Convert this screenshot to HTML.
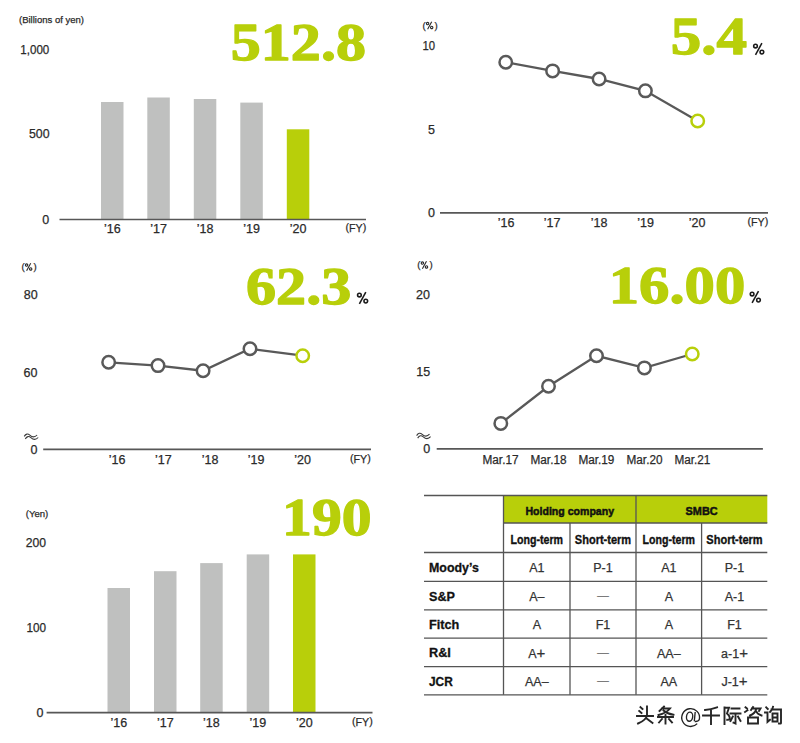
<!DOCTYPE html>
<html><head><meta charset="utf-8"><style>
html,body{margin:0;padding:0;background:#fff;}
body{width:800px;height:743px;overflow:hidden;position:relative;}
svg{position:absolute;left:0;top:0;font-family:"Liberation Sans",sans-serif;}
</style></head><body>
<svg width="800" height="743" viewBox="0 0 800 743">
<text x="19" y="23" font-size="9.6" textLength="65" lengthAdjust="spacingAndGlyphs" fill="#2a2a2a" stroke="#2a2a2a" stroke-width="0.25">(Billions of yen)</text>
<text x="49.3" y="54" font-size="12.5" text-anchor="end" textLength="29" lengthAdjust="spacingAndGlyphs" fill="#2a2a2a" stroke="#2a2a2a" stroke-width="0.25">1,000</text>
<text x="49.6" y="138" font-size="12.5" text-anchor="end" textLength="20.6" lengthAdjust="spacingAndGlyphs" fill="#2a2a2a" stroke="#2a2a2a" stroke-width="0.25">500</text>
<text x="49.3" y="223.5" font-size="12.5" text-anchor="end" fill="#2a2a2a" stroke="#2a2a2a" stroke-width="0.25">0</text>
<rect x="101" y="102" width="22.5" height="117.5" fill="#bfc0bf"/>
<rect x="147.3" y="97.5" width="22.5" height="122.0" fill="#bfc0bf"/>
<rect x="193.8" y="99" width="22.5" height="120.5" fill="#bfc0bf"/>
<rect x="240.3" y="102.6" width="22.5" height="116.9" fill="#bfc0bf"/>
<rect x="286.8" y="129.3" width="22.5" height="90.19999999999999" fill="#b8cf0a"/>
<line x1="59.5" y1="219.5" x2="366" y2="219.5" stroke="#575757" stroke-width="1.7"/>
<text x="112.25" y="233" font-size="12.5" text-anchor="middle" fill="#2a2a2a" stroke="#2a2a2a" stroke-width="0.25">’16</text>
<text x="158.55" y="233" font-size="12.5" text-anchor="middle" fill="#2a2a2a" stroke="#2a2a2a" stroke-width="0.25">’17</text>
<text x="205.05" y="233" font-size="12.5" text-anchor="middle" fill="#2a2a2a" stroke="#2a2a2a" stroke-width="0.25">’18</text>
<text x="251.55" y="233" font-size="12.5" text-anchor="middle" fill="#2a2a2a" stroke="#2a2a2a" stroke-width="0.25">’19</text>
<text x="298.05" y="233" font-size="12.5" text-anchor="middle" fill="#2a2a2a" stroke="#2a2a2a" stroke-width="0.25">’20</text>
<text x="366.3" y="231.9" font-size="11.8" text-anchor="end" fill="#2a2a2a" stroke="#2a2a2a" stroke-width="0.25" textLength="20.8" lengthAdjust="spacingAndGlyphs"><tspan dy="-0.9">(</tspan><tspan dy="0.9">FY</tspan><tspan dy="-0.9">)</tspan></text>
<text x="298.35" y="59.75" font-size="53.7" text-anchor="middle" font-weight="bold" font-family="Liberation Serif" textLength="135.2" lengthAdjust="spacingAndGlyphs" fill="#b8cf0a" stroke="#b8cf0a" stroke-width="1.3" stroke-linejoin="round">512.8</text>
<text x="422.4" y="28.5" font-size="9.6" fill="#2a2a2a" stroke="#2a2a2a" stroke-width="0.25">(</text>
<g transform="translate(426.0,29.1) scale(0.64)" fill="none" stroke="#2a2a2a" stroke-width="1.71875"><circle cx="2.5" cy="-8.7" r="1.85"/><circle cx="8.9" cy="-2.6" r="1.85"/><line x1="8.9" y1="-11.6" x2="2.5" y2="0.1"/></g>
<text x="434.6" y="28.5" font-size="9.6" fill="#2a2a2a" stroke="#2a2a2a" stroke-width="0.25">)</text>
<text x="435" y="49.5" font-size="12.5" text-anchor="end" textLength="12.6" lengthAdjust="spacingAndGlyphs" fill="#2a2a2a" stroke="#2a2a2a" stroke-width="0.25">10</text>
<text x="435" y="133.9" font-size="12.5" text-anchor="end" fill="#2a2a2a" stroke="#2a2a2a" stroke-width="0.25">5</text>
<text x="435" y="217.3" font-size="12.5" text-anchor="end" fill="#2a2a2a" stroke="#2a2a2a" stroke-width="0.25">0</text>
<line x1="440" y1="212.9" x2="768" y2="212.9" stroke="#575757" stroke-width="1.7"/>
<polyline points="505.75,62.25 552.6,70.9 599.1,79 645.4,90.85 697.7,121" fill="none" stroke="#595959" stroke-width="2.3"/>
<circle cx="505.75" cy="62.25" r="6.25" fill="#fff" stroke="#595959" stroke-width="2.5"/>
<circle cx="552.6" cy="70.9" r="6.25" fill="#fff" stroke="#595959" stroke-width="2.5"/>
<circle cx="599.1" cy="79" r="6.25" fill="#fff" stroke="#595959" stroke-width="2.5"/>
<circle cx="645.4" cy="90.85" r="6.25" fill="#fff" stroke="#595959" stroke-width="2.5"/>
<circle cx="697.7" cy="121" r="6.25" fill="#fff" stroke="#b8cf0a" stroke-width="2.5"/>
<text x="506.2" y="226.6" font-size="12.5" text-anchor="middle" fill="#2a2a2a" stroke="#2a2a2a" stroke-width="0.25">’16</text>
<text x="552.1" y="226.6" font-size="12.5" text-anchor="middle" fill="#2a2a2a" stroke="#2a2a2a" stroke-width="0.25">’17</text>
<text x="599" y="226.6" font-size="12.5" text-anchor="middle" fill="#2a2a2a" stroke="#2a2a2a" stroke-width="0.25">’18</text>
<text x="645.7" y="226.6" font-size="12.5" text-anchor="middle" fill="#2a2a2a" stroke="#2a2a2a" stroke-width="0.25">’19</text>
<text x="697" y="226.6" font-size="12.5" text-anchor="middle" fill="#2a2a2a" stroke="#2a2a2a" stroke-width="0.25">’20</text>
<text x="768.3" y="226.3" font-size="11.8" text-anchor="end" fill="#2a2a2a" stroke="#2a2a2a" stroke-width="0.25" textLength="20.8" lengthAdjust="spacingAndGlyphs"><tspan dy="-0.9">(</tspan><tspan dy="0.9">FY</tspan><tspan dy="-0.9">)</tspan></text>
<text x="708.9" y="54.35" font-size="53.7" text-anchor="middle" font-weight="bold" font-family="Liberation Serif" textLength="76.3" lengthAdjust="spacingAndGlyphs" fill="#b8cf0a" stroke="#b8cf0a" stroke-width="1.3" stroke-linejoin="round">5.4</text>
<g transform="translate(753,54.7) scale(1.0)" fill="none" stroke="#1a1a1a" stroke-width="1.55"><circle cx="2.5" cy="-8.7" r="1.85"/><circle cx="8.9" cy="-2.6" r="1.85"/><line x1="8.9" y1="-11.6" x2="2.5" y2="0.1"/></g>
<text x="21.4" y="270" font-size="9.6" fill="#2a2a2a" stroke="#2a2a2a" stroke-width="0.25">(</text>
<g transform="translate(25.0,270.6) scale(0.64)" fill="none" stroke="#2a2a2a" stroke-width="1.71875"><circle cx="2.5" cy="-8.7" r="1.85"/><circle cx="8.9" cy="-2.6" r="1.85"/><line x1="8.9" y1="-11.6" x2="2.5" y2="0.1"/></g>
<text x="33.6" y="270" font-size="9.6" fill="#2a2a2a" stroke="#2a2a2a" stroke-width="0.25">)</text>
<text x="37.7" y="298.8" font-size="12.5" text-anchor="end" fill="#2a2a2a" stroke="#2a2a2a" stroke-width="0.25">80</text>
<text x="37.5" y="376.7" font-size="12.5" text-anchor="end" fill="#2a2a2a" stroke="#2a2a2a" stroke-width="0.25">60</text>
<g transform="translate(24.2,433.3)" fill="none" stroke="#3a3a3a" stroke-width="1.1"><path d="M0,3.1 C1.6,0.4 3.6,0.1 5.6,1.9 S10,4.9 12.9,1.7"/><path transform="translate(1.1,2.5)" d="M0,3.1 C1.6,0.4 3.6,0.1 5.6,1.9 S10,4.9 12.9,1.7"/></g>
<text x="37.5" y="453.7" font-size="12.5" text-anchor="end" fill="#2a2a2a" stroke="#2a2a2a" stroke-width="0.25">0</text>
<line x1="43.2" y1="449.4" x2="371" y2="449.4" stroke="#575757" stroke-width="1.7"/>
<polyline points="108.65,362.3 158,365.6 203.1,370.75 250,348.8 302.7,355.7" fill="none" stroke="#595959" stroke-width="2.3"/>
<circle cx="108.65" cy="362.3" r="6.25" fill="#fff" stroke="#595959" stroke-width="2.5"/>
<circle cx="158" cy="365.6" r="6.25" fill="#fff" stroke="#595959" stroke-width="2.5"/>
<circle cx="203.1" cy="370.75" r="6.25" fill="#fff" stroke="#595959" stroke-width="2.5"/>
<circle cx="250" cy="348.8" r="6.25" fill="#fff" stroke="#595959" stroke-width="2.5"/>
<circle cx="302.7" cy="355.7" r="6.25" fill="#fff" stroke="#b8cf0a" stroke-width="2.5"/>
<text x="117" y="463.5" font-size="12.5" text-anchor="middle" fill="#2a2a2a" stroke="#2a2a2a" stroke-width="0.25">’16</text>
<text x="163.3" y="463.5" font-size="12.5" text-anchor="middle" fill="#2a2a2a" stroke="#2a2a2a" stroke-width="0.25">’17</text>
<text x="210" y="463.5" font-size="12.5" text-anchor="middle" fill="#2a2a2a" stroke="#2a2a2a" stroke-width="0.25">’18</text>
<text x="256" y="463.5" font-size="12.5" text-anchor="middle" fill="#2a2a2a" stroke="#2a2a2a" stroke-width="0.25">’19</text>
<text x="302.7" y="463.5" font-size="12.5" text-anchor="middle" fill="#2a2a2a" stroke="#2a2a2a" stroke-width="0.25">’20</text>
<text x="370.7" y="463.2" font-size="11.8" text-anchor="end" fill="#2a2a2a" stroke="#2a2a2a" stroke-width="0.25" textLength="20.8" lengthAdjust="spacingAndGlyphs"><tspan dy="-0.9">(</tspan><tspan dy="0.9">FY</tspan><tspan dy="-0.9">)</tspan></text>
<text x="298.65" y="304.35" font-size="53.7" text-anchor="middle" font-weight="bold" font-family="Liberation Serif" textLength="105.2" lengthAdjust="spacingAndGlyphs" fill="#b8cf0a" stroke="#b8cf0a" stroke-width="1.3" stroke-linejoin="round">62.3</text>
<g transform="translate(356.9,303.7) scale(1.0)" fill="none" stroke="#1a1a1a" stroke-width="1.55"><circle cx="2.5" cy="-8.7" r="1.85"/><circle cx="8.9" cy="-2.6" r="1.85"/><line x1="8.9" y1="-11.6" x2="2.5" y2="0.1"/></g>
<text x="417.2" y="268" font-size="9.6" fill="#2a2a2a" stroke="#2a2a2a" stroke-width="0.25">(</text>
<g transform="translate(420.8,268.6) scale(0.64)" fill="none" stroke="#2a2a2a" stroke-width="1.71875"><circle cx="2.5" cy="-8.7" r="1.85"/><circle cx="8.9" cy="-2.6" r="1.85"/><line x1="8.9" y1="-11.6" x2="2.5" y2="0.1"/></g>
<text x="429.40000000000003" y="268" font-size="9.6" fill="#2a2a2a" stroke="#2a2a2a" stroke-width="0.25">)</text>
<text x="430" y="298.8" font-size="12.5" text-anchor="end" fill="#2a2a2a" stroke="#2a2a2a" stroke-width="0.25">20</text>
<text x="430.2" y="375.5" font-size="12.5" text-anchor="end" fill="#2a2a2a" stroke="#2a2a2a" stroke-width="0.25">15</text>
<g transform="translate(416.6,432.5)" fill="none" stroke="#3a3a3a" stroke-width="1.1"><path d="M0,3.1 C1.6,0.4 3.6,0.1 5.6,1.9 S10,4.9 12.9,1.7"/><path transform="translate(1.1,2.5)" d="M0,3.1 C1.6,0.4 3.6,0.1 5.6,1.9 S10,4.9 12.9,1.7"/></g>
<text x="430.2" y="452.6" font-size="12.5" text-anchor="end" fill="#2a2a2a" stroke="#2a2a2a" stroke-width="0.25">0</text>
<line x1="436.7" y1="448.9" x2="762.9" y2="448.9" stroke="#575757" stroke-width="1.7"/>
<polyline points="500.8,423.4 548.5,386.3 596.5,355.8 644.4,367.9 692.25,354" fill="none" stroke="#595959" stroke-width="2.3"/>
<circle cx="500.8" cy="423.4" r="6.25" fill="#fff" stroke="#595959" stroke-width="2.5"/>
<circle cx="548.5" cy="386.3" r="6.25" fill="#fff" stroke="#595959" stroke-width="2.5"/>
<circle cx="596.5" cy="355.8" r="6.25" fill="#fff" stroke="#595959" stroke-width="2.5"/>
<circle cx="644.4" cy="367.9" r="6.25" fill="#fff" stroke="#595959" stroke-width="2.5"/>
<circle cx="692.25" cy="354" r="6.25" fill="#fff" stroke="#b8cf0a" stroke-width="2.5"/>
<text x="500.5" y="463.6" font-size="12.5" text-anchor="middle" textLength="36" lengthAdjust="spacingAndGlyphs" fill="#2a2a2a" stroke="#2a2a2a" stroke-width="0.25">Mar.17</text>
<text x="548.5" y="463.6" font-size="12.5" text-anchor="middle" textLength="36" lengthAdjust="spacingAndGlyphs" fill="#2a2a2a" stroke="#2a2a2a" stroke-width="0.25">Mar.18</text>
<text x="596.4" y="463.6" font-size="12.5" text-anchor="middle" textLength="36" lengthAdjust="spacingAndGlyphs" fill="#2a2a2a" stroke="#2a2a2a" stroke-width="0.25">Mar.19</text>
<text x="644.5" y="463.6" font-size="12.5" text-anchor="middle" textLength="36" lengthAdjust="spacingAndGlyphs" fill="#2a2a2a" stroke="#2a2a2a" stroke-width="0.25">Mar.20</text>
<text x="692.4" y="463.6" font-size="12.5" text-anchor="middle" textLength="36" lengthAdjust="spacingAndGlyphs" fill="#2a2a2a" stroke="#2a2a2a" stroke-width="0.25">Mar.21</text>
<text x="677.0" y="302.95000000000005" font-size="53.7" text-anchor="middle" font-weight="bold" font-family="Liberation Serif" textLength="136.5" lengthAdjust="spacingAndGlyphs" fill="#b8cf0a" stroke="#b8cf0a" stroke-width="1.3" stroke-linejoin="round">16.00</text>
<g transform="translate(749.6,302.7) scale(1.0)" fill="none" stroke="#1a1a1a" stroke-width="1.55"><circle cx="2.5" cy="-8.7" r="1.85"/><circle cx="8.9" cy="-2.6" r="1.85"/><line x1="8.9" y1="-11.6" x2="2.5" y2="0.1"/></g>
<text x="25.7" y="517" font-size="9.6" fill="#2a2a2a" stroke="#2a2a2a" stroke-width="0.25">(Yen)</text>
<text x="46" y="547.2" font-size="12.5" text-anchor="end" textLength="20.3" lengthAdjust="spacingAndGlyphs" fill="#2a2a2a" stroke="#2a2a2a" stroke-width="0.25">200</text>
<text x="46" y="632.2" font-size="12.5" text-anchor="end" textLength="19.6" lengthAdjust="spacingAndGlyphs" fill="#2a2a2a" stroke="#2a2a2a" stroke-width="0.25">100</text>
<text x="43.5" y="716.6" font-size="12.5" text-anchor="end" fill="#2a2a2a" stroke="#2a2a2a" stroke-width="0.25">0</text>
<rect x="107.5" y="588" width="22.5" height="124.70000000000005" fill="#bfc0bf"/>
<rect x="154" y="571.2" width="22.5" height="141.5" fill="#bfc0bf"/>
<rect x="200.2" y="563.1" width="22.5" height="149.60000000000002" fill="#bfc0bf"/>
<rect x="246.7" y="554.4" width="22.5" height="158.30000000000007" fill="#bfc0bf"/>
<rect x="293" y="554.4" width="22.5" height="158.30000000000007" fill="#b8cf0a"/>
<line x1="46.6" y1="712.7" x2="372.5" y2="712.7" stroke="#575757" stroke-width="1.7"/>
<text x="118.75" y="727" font-size="12.5" text-anchor="middle" fill="#2a2a2a" stroke="#2a2a2a" stroke-width="0.25">’16</text>
<text x="165.25" y="727" font-size="12.5" text-anchor="middle" fill="#2a2a2a" stroke="#2a2a2a" stroke-width="0.25">’17</text>
<text x="211.45" y="727" font-size="12.5" text-anchor="middle" fill="#2a2a2a" stroke="#2a2a2a" stroke-width="0.25">’18</text>
<text x="257.95" y="727" font-size="12.5" text-anchor="middle" fill="#2a2a2a" stroke="#2a2a2a" stroke-width="0.25">’19</text>
<text x="304.25" y="727" font-size="12.5" text-anchor="middle" fill="#2a2a2a" stroke="#2a2a2a" stroke-width="0.25">’20</text>
<text x="372.8" y="726.0" font-size="11.8" text-anchor="end" fill="#2a2a2a" stroke="#2a2a2a" stroke-width="0.25" textLength="20.8" lengthAdjust="spacingAndGlyphs"><tspan dy="-0.9">(</tspan><tspan dy="0.9">FY</tspan><tspan dy="-0.9">)</tspan></text>
<text x="326.79999999999995" y="534.5500000000001" font-size="53.7" text-anchor="middle" font-weight="bold" font-family="Liberation Serif" textLength="89.4" lengthAdjust="spacingAndGlyphs" fill="#b8cf0a" stroke="#b8cf0a" stroke-width="1.3" stroke-linejoin="round">190</text>
<rect x="503.5" y="495.5" width="263.79999999999995" height="27.5" fill="#b8cf0a"/>
<line x1="424" y1="495.5" x2="767.3" y2="495.5" stroke="#555" stroke-width="1.3"/>
<line x1="424" y1="552.5" x2="767.3" y2="552.5" stroke="#555" stroke-width="1.3"/>
<line x1="424" y1="581.3" x2="767.3" y2="581.3" stroke="#555" stroke-width="1.3"/>
<line x1="424" y1="609.8" x2="767.3" y2="609.8" stroke="#555" stroke-width="1.3"/>
<line x1="424" y1="638.1" x2="767.3" y2="638.1" stroke="#555" stroke-width="1.3"/>
<line x1="424" y1="666.6" x2="767.3" y2="666.6" stroke="#555" stroke-width="1.3"/>
<line x1="424" y1="694.8" x2="767.3" y2="694.8" stroke="#555" stroke-width="1.3"/>
<line x1="503.5" y1="523" x2="767.3" y2="523" stroke="#555" stroke-width="1.3"/>
<line x1="503.5" y1="495.5" x2="503.5" y2="694.8" stroke="#555" stroke-width="1.3"/>
<line x1="636" y1="495.5" x2="636" y2="694.8" stroke="#555" stroke-width="1.3"/>
<line x1="570" y1="523" x2="570" y2="694.8" stroke="#555" stroke-width="1.3"/>
<line x1="701.6" y1="523" x2="701.6" y2="694.8" stroke="#555" stroke-width="1.3"/>
<text x="569.75" y="514.7" font-size="11.6" text-anchor="middle" font-weight="bold" textLength="88.5" lengthAdjust="spacingAndGlyphs" fill="#111" stroke="#111" stroke-width="0.5">Holding company</text>
<text x="701.6" y="514.7" font-size="11.6" text-anchor="middle" font-weight="bold" textLength="32" lengthAdjust="spacingAndGlyphs" fill="#111" stroke="#111" stroke-width="0.5">SMBC</text>
<text x="536.8" y="543.9" font-size="12.5" text-anchor="middle" font-weight="bold" textLength="52.5" lengthAdjust="spacingAndGlyphs" fill="#111" stroke="#111" stroke-width="0.35">Long-term</text>
<text x="668.8" y="543.9" font-size="12.5" text-anchor="middle" font-weight="bold" textLength="52.5" lengthAdjust="spacingAndGlyphs" fill="#111" stroke="#111" stroke-width="0.35">Long-term</text>
<text x="603" y="543.9" font-size="12.5" text-anchor="middle" font-weight="bold" textLength="56.3" lengthAdjust="spacingAndGlyphs" fill="#111" stroke="#111" stroke-width="0.35">Short-term</text>
<text x="734.5" y="543.9" font-size="12.5" text-anchor="middle" font-weight="bold" textLength="56.3" lengthAdjust="spacingAndGlyphs" fill="#111" stroke="#111" stroke-width="0.35">Short-term</text>
<text x="429" y="571.8" font-size="13" font-weight="bold" textLength="49.8" lengthAdjust="spacingAndGlyphs" fill="#111" stroke="#111" stroke-width="0.3">Moody’s</text>
<text x="536.8" y="572.0" font-size="12.5" text-anchor="middle" fill="#333" stroke="#333" stroke-width="0.25">A1</text>
<text x="603" y="572.0" font-size="12.5" text-anchor="middle" fill="#333" stroke="#333" stroke-width="0.25">P-1</text>
<text x="668.8" y="572.0" font-size="12.5" text-anchor="middle" fill="#333" stroke="#333" stroke-width="0.25">A1</text>
<text x="734.5" y="572.0" font-size="12.5" text-anchor="middle" fill="#333" stroke="#333" stroke-width="0.25">P-1</text>
<text x="429" y="600.5999999999999" font-size="13" font-weight="bold" textLength="25.9" lengthAdjust="spacingAndGlyphs" fill="#111" stroke="#111" stroke-width="0.3">S&amp;P</text>
<text x="536.8" y="600.8" font-size="12.5" text-anchor="middle" fill="#333" stroke="#333" stroke-width="0.25">A–</text>
<text x="603" y="598.8" font-size="11.5" text-anchor="middle" fill="#707070" stroke="#707070" stroke-width="0.25">—</text>
<text x="668.8" y="600.8" font-size="12.5" text-anchor="middle" fill="#333" stroke="#333" stroke-width="0.25">A</text>
<text x="734.5" y="600.8" font-size="12.5" text-anchor="middle" fill="#333" stroke="#333" stroke-width="0.25">A-1</text>
<text x="429" y="629.0999999999999" font-size="13" font-weight="bold" textLength="30.3" lengthAdjust="spacingAndGlyphs" fill="#111" stroke="#111" stroke-width="0.3">Fitch</text>
<text x="536.8" y="629.3" font-size="12.5" text-anchor="middle" fill="#333" stroke="#333" stroke-width="0.25">A</text>
<text x="603" y="629.3" font-size="12.5" text-anchor="middle" fill="#333" stroke="#333" stroke-width="0.25">F1</text>
<text x="668.8" y="629.3" font-size="12.5" text-anchor="middle" fill="#333" stroke="#333" stroke-width="0.25">A</text>
<text x="734.5" y="629.3" font-size="12.5" text-anchor="middle" fill="#333" stroke="#333" stroke-width="0.25">F1</text>
<text x="429" y="657.4" font-size="13" font-weight="bold" textLength="21.9" lengthAdjust="spacingAndGlyphs" fill="#111" stroke="#111" stroke-width="0.3">R&amp;I</text>
<text x="536.8" y="657.6" font-size="12.5" text-anchor="middle" fill="#333" stroke="#333" stroke-width="0.25">A<tspan font-size="15">+</tspan></text>
<text x="603" y="655.6" font-size="11.5" text-anchor="middle" fill="#707070" stroke="#707070" stroke-width="0.25">—</text>
<text x="668.8" y="657.6" font-size="12.5" text-anchor="middle" fill="#333" stroke="#333" stroke-width="0.25">AA–</text>
<text x="734.5" y="657.6" font-size="12.5" text-anchor="middle" fill="#333" stroke="#333" stroke-width="0.25">a-1<tspan font-size="15">+</tspan></text>
<text x="429" y="685.9" font-size="13" font-weight="bold" textLength="23.8" lengthAdjust="spacingAndGlyphs" fill="#111" stroke="#111" stroke-width="0.3">JCR</text>
<text x="536.8" y="686.1" font-size="12.5" text-anchor="middle" fill="#333" stroke="#333" stroke-width="0.25">AA–</text>
<text x="603" y="684.1" font-size="11.5" text-anchor="middle" fill="#707070" stroke="#707070" stroke-width="0.25">—</text>
<text x="668.8" y="686.1" font-size="12.5" text-anchor="middle" fill="#333" stroke="#333" stroke-width="0.25">AA</text>
<text x="734.5" y="686.1" font-size="12.5" text-anchor="middle" fill="#333" stroke="#333" stroke-width="0.25">J-1<tspan font-size="15">+</tspan></text>
<path transform="translate(636,706) scale(1.0)" d="M4.5,1.2 L6.5,3 M3.2,5 L5.5,7 M11,0.5 L11,9 Q10.5,14 2,17.5 M1,10 L17,10 M11,12.8 L16.5,17" fill="none" stroke="#262626" stroke-width="1.9" stroke-linecap="square" stroke-linejoin="miter"/>
<path transform="translate(656.5,706) scale(1.0)" d="M7.5,0.5 L3,5 M5.5,2.5 L13.5,2.5 Q10,7 2,9 M7,4.5 Q11,8 17,8.8 M1.5,11 L16.5,11 M9,9 L9,17.5 M5.5,13 L2.5,16.5 M12.5,13 L15.5,16.5" fill="none" stroke="#262626" stroke-width="1.9" stroke-linecap="square" stroke-linejoin="miter"/>
<g fill="none" stroke="#222" stroke-width="1.35"><path d="M697.2,723.6 A8.9,8.9 0 1 1 699.4,719.2 Q698.3,721.7 694.8,721.5"/><path d="M695.2,712 L694.3,721.2"/><ellipse cx="689.6" cy="716.7" rx="3.1" ry="4.6" transform="rotate(8 689.6 716.7)"/></g>
<path transform="translate(702,706.5) scale(1.0)" d="M15,0.8 Q9,3 3,3.5 M1,9 L17,9 M9,3 L9,17.5" fill="none" stroke="#262626" stroke-width="1.9" stroke-linecap="square" stroke-linejoin="miter"/>
<path transform="translate(723,706.5) scale(1.0)" d="M1.5,1 L1.5,17.5 M1.5,1.2 L6,1.2 L4,7 Q7.5,10 6.5,12.5 Q6,13.5 4.2,13.3 M8.5,2 L16.5,2 M7.5,7 L17.5,7 M12.5,7 L12.5,17 L10.5,16.2 M9.8,10 L7.5,14.5 M15,10 L17.5,14.5" fill="none" stroke="#262626" stroke-width="1.9" stroke-linecap="square" stroke-linejoin="miter"/>
<path transform="translate(744,706.5) scale(1.0)" d="M1.5,0.8 L3,2 M1,5.5 L3.5,3.8 M9,0.5 L7,3.5 M8,2 L16.5,2 L15,4.5 M12,3 Q11,7 6,9 M12,4.5 Q13.5,8 17.5,9 M4,11 L14,11 L14,17 L4,17 Z" fill="none" stroke="#262626" stroke-width="1.9" stroke-linecap="square" stroke-linejoin="miter"/>
<path transform="translate(764,706.5) scale(1.0)" d="M2.2,0.8 L3.8,2.5 M1,6 L3.5,6 L3.5,15.5 L6,13.3 M9,0.3 Q8.5,3 6,5.5 M7.5,3 L17,3 L17,16.5 Q16.8,17.5 15,17 M8.5,7 L13.5,7 L13.5,15 L8.5,15 Z M8.5,11 L13.5,11" fill="none" stroke="#262626" stroke-width="1.9" stroke-linecap="square" stroke-linejoin="miter"/>
</svg>
</body></html>
